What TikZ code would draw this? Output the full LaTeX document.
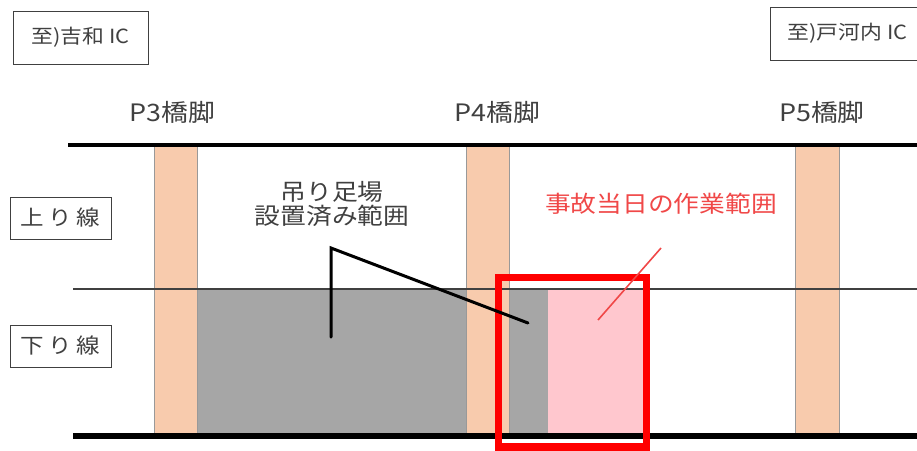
\documentclass[tikz,border=0pt]{standalone}
\usepackage{fontspec}
\setmainfont[FakeStretch=1.12]{Noto Sans CJK JP}
\usepackage{tikz}
\usetikzlibrary{positioning}
\definecolor{pierorange}{RGB}{248,203,173}
\definecolor{scaffoldgray}{RGB}{166,166,166}
\definecolor{workpink}{RGB}{255,199,206}
\definecolor{textgray}{RGB}{64,64,64}
\definecolor{edgeslate}{RGB}{80,88,110}
\definecolor{notered}{RGB}{240,72,72}

\begin{document}
\begin{tikzpicture}[
    x=1pt, y=-1pt,
    pier/.style={rectangle, draw=gray!80, line width=0.8pt, fill=pierorange, minimum width=43pt, minimum height=291pt, inner sep=0pt},
    pierlabel/.style={inner sep=0pt, text=textgray, font=\fontsize{24}{28}\selectfont},
    signbox/.style={rectangle, draw=textgray, line width=0.9pt, inner sep=0pt, minimum height=53pt, text=textgray, font=\fontsize{19.5}{22}\selectfont},
    lanebox/.style={rectangle, draw=textgray, line width=0.9pt, inner sep=0pt, minimum width=101pt, minimum height=42pt, text=textgray, font=\fontsize{21}{24}\selectfont},
    note/.style={inner sep=0pt, align=center, text=textgray, font=\fontsize{23}{24}\selectfont},
    rail/.style={line width=4.5pt},
    callout/.style={line width=3pt, line cap=round}
]
\useasboundingbox (0,0) rectangle (917,450);

% scaffold and work areas
\fill[scaffoldgray] (197,289) rectangle (466,436);
\filldraw[fill=scaffoldgray, draw=edgeslate, line width=0.8pt] (509,289) rectangle (548,436);
\fill[workpink] (548.4,289) rectangle (645,436);

% piers
\node[pier] (p3) at (175.5,290.5) {};
\node[pier] (p4) at (487.5,290.5) {};
\node[pier, minimum width=44pt] (p5) at (817,290.5) {};

\node[pierlabel, above=21pt of p3.north, xshift=-3pt] (p3_l) {P3橋脚};
\node[pierlabel, above=21pt of p4.north, xshift=10pt] (p4_l) {P4橋脚};
\node[pierlabel, above=21pt of p5.north, xshift=5pt] (p5_l) {P5橋脚};

% deck edges and lane divider
\draw[rail] (68,145) -- (917,145);
\draw[line width=1.2pt, textgray] (73,289) -- (917,289);
\draw[rail, line width=5.5pt] (73,436) -- (917,436);

% work range on the accident day
\draw[red, line width=7.5pt] (498.5,277.5) rectangle (646.5,447);

% direction signs and lanes
\node[signbox, minimum width=135pt] (to_yoshiwa) at (80.5,37.5) {至)吉和 IC};
\node[signbox, minimum width=155pt] (to_togochi) at (847.5,33.5) {至)戸河内 IC};
\node[lanebox] (up_lane) at (60.5,218) {上\hspace{4.5pt}り\hspace{4.5pt}線};
\node[lanebox] (down_lane) at (60.5,346) {下\hspace{4.5pt}り\hspace{4.5pt}線};

% notes
\node[note] (scaffold) at (332,204) {吊り足場\\設置済み範囲};
\node[note, text=notered] (workday) at (661,204) {事故当日の作業範囲};

\coordinate (scaffold_a) at (331,337);
\coordinate (scaffold_b) at (331,248);
\coordinate (scaffold_c) at (528,323);
\draw[callout] (scaffold_a) -- (scaffold_b) -- (scaffold_c);

\coordinate (workday_a) at (598,320);
\coordinate (workday_b) at (661,248);
\draw[notered, line width=1.6pt] (workday_a) -- (workday_b);

\end{tikzpicture}
\end{document}
